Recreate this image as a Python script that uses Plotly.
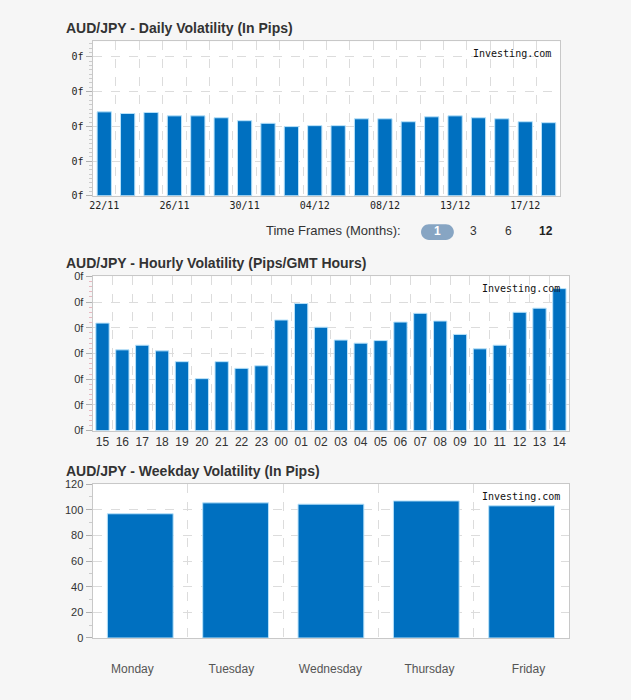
import plotly.graph_objects as go

W, H = 631, 700

# ---------------- data ----------------
daily_dates = ["22/11", "23/11", "25/11", "26/11", "27/11", "29/11", "30/11", "01/12",
               "03/12", "04/12", "05/12", "06/12", "08/12", "10/12", "11/12", "13/12",
               "14/12", "15/12", "17/12", "18/12"]
daily_values = [96.7, 94.8, 96.0, 92.1, 92.1, 89.9, 86.5, 83.5, 79.7, 80.8,
                80.8, 88.7, 88.7, 85.3, 91.0, 92.1, 89.9, 88.7, 85.3, 84.2]
daily_tick_labels = ["22/11", "26/11", "30/11", "04/12", "08/12", "13/12", "17/12"]
daily_yticks = [0, 40, 80, 120, 160]

hours = ["15", "16", "17", "18", "19", "20", "21", "22", "23", "00", "01", "02",
         "03", "04", "05", "06", "07", "08", "09", "10", "11", "12", "13", "14"]
hourly_values = [20.9, 15.7, 16.6, 15.5, 13.4, 10.1, 13.4, 12.1, 12.6, 21.5, 24.7, 20.1,
                 17.6, 17.0, 17.5, 21.1, 22.8, 21.3, 18.7, 15.9, 16.6, 23.0, 23.8, 27.6]
hourly_yticks = [0, 5, 10, 15, 20, 25, 30]

weekdays = ["Monday", "Tuesday", "Wednesday", "Thursday", "Friday"]
weekday_values = [96.9, 105.4, 104.4, 106.9, 103.1]
weekday_yticks = [0, 20, 40, 60, 80, 100, 120]

timeframes = ["1", "3", "6", "12"]

# ---------------- style ----------------
BAR = "#0070c0"
BAR_EDGE = "#b8e2fa"
GRID = "#dcdcdc"
FRAME = "#c8c8c8"
TXT = "#333333"
MONO = "DejaVu Sans Mono, Liberation Mono, monospace"
SANS = "Arial, Liberation Sans, sans-serif"


def px_x(p):
    return p / W


def px_y(p):
    return 1 - p / H


fig = go.Figure()

fig.add_trace(go.Bar(x=list(range(len(daily_values))), y=daily_values, width=0.61,
                     marker=dict(color=BAR, line=dict(color=BAR_EDGE, width=1)),
                     xaxis="x", yaxis="y", hoverinfo="skip"))
fig.add_trace(go.Bar(x=list(range(len(hourly_values))), y=hourly_values, width=0.67,
                     marker=dict(color=BAR, line=dict(color=BAR_EDGE, width=1)),
                     xaxis="x2", yaxis="y2", hoverinfo="skip"))
fig.add_trace(go.Bar(x=list(range(len(weekday_values))), y=weekday_values, width=0.69,
                     marker=dict(color=BAR, line=dict(color=BAR_EDGE, width=1)),
                     xaxis="x3", yaxis="y3", hoverinfo="skip"))
# invisible companion trace that carries the weekday label axis
fig.add_trace(go.Bar(x=list(range(len(weekday_values))), y=weekday_values, width=0.69,
                     marker=dict(color="rgba(0,0,0,0)", line=dict(width=0)),
                     xaxis="x4", yaxis="y3", hoverinfo="skip"))

daily_tickvals = [daily_dates.index(d) for d in daily_tick_labels]


def xaxis(domain, n, tickvals, ticktext, font, anchor, standoff=0):
    return dict(domain=domain, anchor=anchor, range=[-0.5, n - 0.5],
                tickmode="array", tickvals=tickvals, ticktext=ticktext,
                tickfont=font, showgrid=False, zeroline=False,
                showline=True, linecolor=FRAME, mirror=True, ticks="",
                ticklabelstandoff=standoff,
                minor=dict(tick0=0.5, dtick=1, showgrid=True, gridcolor=GRID,
                           griddash="dash", gridwidth=1, ticks=""),
                fixedrange=True)


def yaxis(domain, rng, tickvals, ticktext, font, anchor, minor_dtick, minor_color):
    return dict(domain=domain, anchor=anchor, range=rng, tickmode="array",
                tickvals=tickvals, ticktext=ticktext, tickfont=font,
                showgrid=True, gridcolor=GRID, griddash="dash", gridwidth=1,
                zeroline=False, showline=True, linecolor=FRAME, mirror=True,
                ticks="outside", ticklen=6, tickcolor="#b0b0b0",
                minor=dict(dtick=minor_dtick, ticks="outside", ticklen=3,
                           tickcolor=minor_color, showgrid=False),
                fixedrange=True)


xd = [px_x(90), px_x(560)]
xh = [px_x(90), px_x(569)]
yd = [px_y(193), px_y(36)]
yh = [px_y(432), px_y(275)]
yw = [px_y(643), px_y(486.5)]

x3_axis = xaxis(xh, len(weekday_values), list(range(len(weekdays))), weekdays,
                dict(family=SANS, size=12, color="#555"), "y3")
x3_axis["showticklabels"] = False

# label axis: weekday names are spread a little wider than the bars
x4_axis = dict(anchor="y3", overlaying="x3",
               range=[-0.402, len(weekdays) - 0.588], tickmode="array",
               tickvals=list(range(len(weekdays))), ticktext=weekdays,
               tickfont=dict(family=SANS, size=12, color="#555"),
               showgrid=False, zeroline=False, showline=False, ticks="",
               side="bottom", ticklabelstandoff=22, fixedrange=True)

fig.update_layout(
    width=W, height=H, margin=dict(l=0, r=0, t=0, b=0),
    paper_bgcolor="#f6f6f6", plot_bgcolor="#ffffff", showlegend=False,
    bargap=0.3,
    xaxis=xaxis(xd, len(daily_values), daily_tickvals, daily_tick_labels,
                dict(family=MONO, size=10, color="#222"), "y"),
    yaxis=yaxis(yd, [0, 178], daily_yticks, ["0f"] * len(daily_yticks),
                dict(family=MONO, size=10, color="#222"), "x", 5, "#cccccc"),
    xaxis2=xaxis(xh, len(hourly_values), list(range(len(hours))), hours,
                 dict(family=SANS, size=12, color=TXT), "y2"),
    yaxis2=yaxis(yh, [0, 30], hourly_yticks, ["0f"] * len(hourly_yticks),
                 dict(family=SANS, size=11, color=TXT), "x2", 1, "#e8b8c0"),
    xaxis3=x3_axis,
    xaxis4=x4_axis,
    yaxis3=yaxis(yw, [0, 120], weekday_yticks, [str(v) for v in weekday_yticks],
                 dict(family=SANS, size=11, color=TXT), "x3", 10, "#cccccc"),
)

titles = [("AUD/JPY - Daily Volatility (In Pips)", 22),
          ("AUD/JPY - Hourly Volatility (Pips/GMT Hours)", 261),
          ("AUD/JPY - Weekday Volatility (In Pips)", 473)]
for t, yy in titles:
    fig.add_annotation(text=f"<b>{t}</b>", xref="paper", yref="paper",
                       x=px_x(61), y=px_y(yy), xanchor="left", yanchor="middle",
                       showarrow=False, font=dict(family=SANS, size=14, color=TXT))

for xr, yr in [("x domain", "y domain"), ("x2 domain", "y2 domain"), ("x3 domain", "y3 domain")]:
    fig.add_annotation(text="Investing.com", xref=xr, yref=yr, x=0.985, y=0.97,
                       xanchor="right", yanchor="top", showarrow=False,
                       font=dict(family=MONO, size=10, color="#111"))

fig.add_annotation(text="Time Frames (Months):", xref="paper", yref="paper",
                   x=px_x(402), y=px_y(228), xanchor="right", yanchor="middle",
                   showarrow=False, font=dict(family=SANS, size=13, color=TXT))

x0, x1, y0, y1 = 420, 453, 222, 238
r = (y1 - y0) / 2
k = 0.5523 * r
path = (f"M {px_x(x0 + r)},{px_y(y0)} L {px_x(x1 - r)},{px_y(y0)} "
        f"C {px_x(x1 - r + k)},{px_y(y0)} {px_x(x1)},{px_y(y0 + r - k)} {px_x(x1)},{px_y(y0 + r)} "
        f"C {px_x(x1)},{px_y(y0 + r + k)} {px_x(x1 - r + k)},{px_y(y1)} {px_x(x1 - r)},{px_y(y1)} "
        f"L {px_x(x0 + r)},{px_y(y1)} "
        f"C {px_x(x0 + r - k)},{px_y(y1)} {px_x(x0)},{px_y(y0 + r + k)} {px_x(x0)},{px_y(y0 + r)} "
        f"C {px_x(x0)},{px_y(y0 + r - k)} {px_x(x0 + r - k)},{px_y(y0)} {px_x(x0 + r)},{px_y(y0)} Z")
fig.add_shape(type="path", path=path, xref="paper", yref="paper",
              fillcolor="#87a5c3", line=dict(width=0), layer="above")

tf_x = [436.5, 473, 508, 546]
tf_style = [("#ffffff", True), (TXT, False), (TXT, False), ("#222", True)]
for lab, xx, (col, bold) in zip(timeframes, tf_x, tf_style):
    fig.add_annotation(text=f"<b>{lab}</b>" if bold else lab, xref="paper", yref="paper",
                       x=px_x(xx), y=px_y(229), xanchor="center", yanchor="middle",
                       showarrow=False, font=dict(family=SANS, size=12, color=col))

post = ("var d=document.documentElement,b=document.body;"
        "d.style.margin='0';d.style.padding='0';d.style.height='700px';d.style.overflow='hidden';"
        "b.style.margin='0';b.style.padding='0';b.style.height='700px';b.style.overflow='hidden';"
        "if(b.firstElementChild){b.firstElementChild.style.lineHeight='0';"
        "b.firstElementChild.style.height='700px';b.firstElementChild.style.overflow='hidden';}")
fig.write_html("out.html", config={"displayModeBar": False}, post_script=post)
